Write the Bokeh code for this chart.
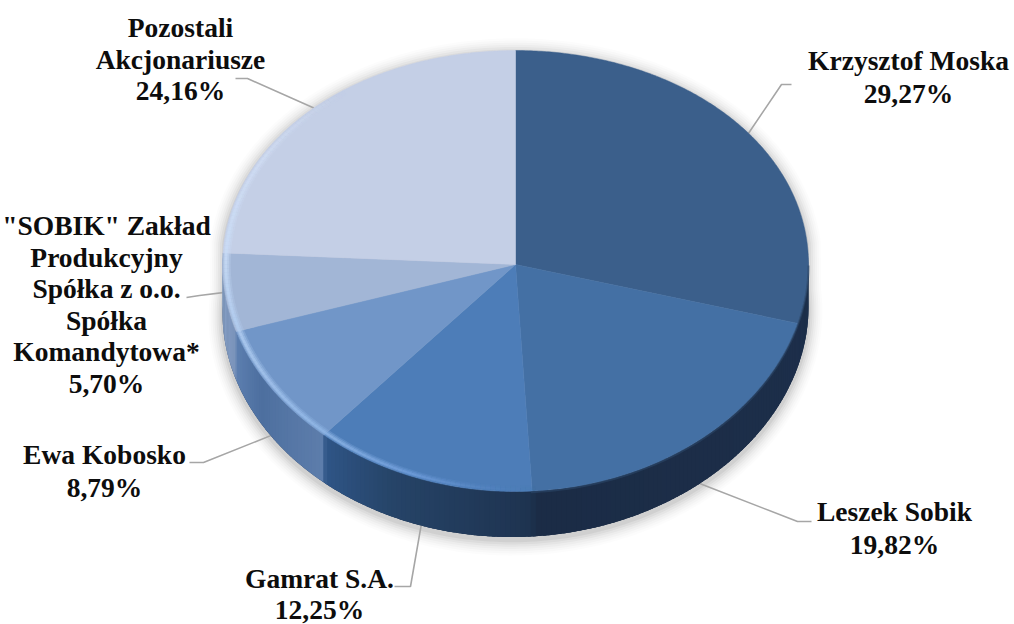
import numpy as np
from bokeh.plotting import figure
from bokeh.models import Range1d
from bokeh.embed import file_html
from bokeh.resources import INLINE
from bokeh.core.properties import value

# data
names = ["Krzysztof Moska", "Leszek Sobik", "Gamrat S.A.", "Ewa Kobosko",
         '"SOBIK" Zakład Produkcyjny Spółka z o.o. Spółka Komandytowa*', "Pozostali Akcjonariusze"]
shares = [29.27, 19.82, 12.25, 8.79, 5.70, 24.16]
pct_labels = ["29,27%", "19,82%", "12,25%", "8,79%", "5,70%", "24,16%"]
label_lines = [["Krzysztof Moska"], ["Leszek Sobik"], ["Gamrat S.A."], ["Ewa Kobosko"],
               ['"SOBIK" Zakład', "Produkcyjny", "Spółka z o.o.", "Spółka", "Komandytowa*"],
               ["Pozostali", "Akcjonariusze"]]

# styles and layout (page pixel coordinates)
face_colors = ["#3b5f8b", "#4470a4", "#4d7db8", "#7196c8", "#a2b6d6", "#c4cfe6"]
label_centers = [908, 894, 319, 104, 106, 180]
label_first_baseline = [69, 520, 587, 463, 234, 36]
label_step = [33, 33, 31, 33, 31.6, 31.5]
text_shift = -9
leader_elbows = [[(781, 84), (791, 84)], [(797, 521), (811, 521)], [(410, 586), (394, 586)],
                 [(203, 462), (189, 462)], [(199, 295), (186, 297)], [(247, 78), (235, 78)]]
leader_on_side = [False, True, True, True, False, False]
side_stops = [(88, "#1d2f4b"), (176, "#1b2c46"), (177, "#1e3350"), (205, "#264468"), (220.4, "#2f5587"),
              (221, "#5d7dab"), (240, "#4d6f9f"), (252, "#5d7fb0"), (253, "#7a94bb"), (272, "#8ea6ca")]
rim_stops = [(176, "#4f7fbb", 0.0), (200, "#6f9ddb", 0.9), (221, "#8fb6e6", 1.0), (252, "#b0ccf0", 1.0),
             (273, "#c9dcf6", 1.0), (300, "#d2dff5", 0.7), (325, "#d0dbf0", 0.0)]

CX, CY, RX, RY, APEX_Y = 515.0, 270.5, 293.0, 220.5, 264.0


def rim(t, s=1.0, extra=0.0):
    r = np.radians(t)
    x = CX + RX * s * np.sin(r)
    y = APEX_Y + (CY - APEX_Y) * np.cos(r) ** 2 - RY * s * np.cos(r) + extra
    return x, y


def depth(t):
    return 45.5 - 3.0 * np.sin(np.radians(t))


def hexrgb(c):
    return np.array([int(c[i:i + 2], 16) for i in (1, 3, 5)], float)


def mix(stops, t):
    ts = [a[0] for a in stops]
    cols = np.array([hexrgb(a[1]) for a in stops])
    v = [np.interp(t, ts, cols[:, i]) for i in range(3)]
    return "#%02x%02x%02x" % tuple(int(round(c)) for c in v)


p = figure(width=1014, height=624, output_backend="svg", toolbar_location=None,
           x_range=Range1d(0, 1014), y_range=Range1d(624, 0), min_border=0,
           outline_line_color=None, background_fill_color="white", border_fill_color="white")
p.axis.visible = False
p.grid.visible = False

# soft shadow under the disc
th = np.linspace(0, 360, 361)
for grow, a in [(14, 0.012), (12, 0.016), (10, 0.02), (8, 0.025), (6, 0.03), (4, 0.04), (2, 0.05)]:
    x, y = rim(th)
    dy = depth(th) * (np.cos(np.radians(th)) < 0.1) + 3
    x = CX + (x - CX) * (1 + grow / RX)
    y = (y + dy - (CY + 23)) * (1 + grow / RY) + CY + 23
    p.patch(x, y, fill_color="#000000", fill_alpha=a, line_color=None)

# leader lines go under the disc
cuts = np.cumsum([0] + shares) / sum(shares) * 360.0
mids = (cuts[:-1] + cuts[1:]) / 2
for m, el, on_side in zip(mids, leader_elbows, leader_on_side):
    ax, ay = rim(m, 1.0, depth(m) if on_side else 0.0)
    p.line([ax] + [e[0] for e in el], [ay] + [e[1] for e in el], line_color="#a6a6a6", line_width=1.6)

# side wall: solid base, then overlapping colour bands
tbase = np.arange(88, 273, 1.0)
xb0, yb0 = rim(tbase)
p.patch(np.r_[xb0, xb0[::-1]], np.r_[yb0, (yb0 + depth(tbase))[::-1]], fill_color="#1d2f4b", line_color=None)
tt = np.arange(88, 272, 1.0)
xs, ys, cs = [], [], []
for t in tt:
    x0, y0 = rim(t)
    x1, y1 = rim(t + 1.6)
    d1 = depth(t + 1.6)
    xs.append([x0, x1, x1, x0])
    ys.append([y0, y1, y1 + d1, y0 + depth(t)])
    cs.append(mix(side_stops, t + 0.5))
p.patches(xs, ys, fill_color=cs, line_color=None)

# top face wedges
for a, b, c in zip(cuts[:-1], cuts[1:], face_colors):
    t = np.linspace(a, b, max(int(b - a) * 2, 4))
    x, y = rim(t)
    p.patch(np.r_[CX, x], np.r_[APEX_Y, y], fill_color=c, line_color=c, line_width=0.5)

# lit bevel along the front-left rim
ts = [s[0] for s in rim_stops]
tb = np.arange(176, 325, 1.0)
for s0, s1, k in [(0.972, 0.999, 0.28), (0.978, 0.996, 0.45), (0.984, 0.993, 0.7)]:
    xs, ys, cs, al = [], [], [], []
    for t in tb:
        xa, ya = rim(t, s1)
        xb, yb = rim(t + 1, s1)
        xc, yc = rim(t + 1, s0)
        xd, yd = rim(t, s0)
        xs.append([xa, xb, xc, xd])
        ys.append([ya, yb, yc, yd])
        cs.append(mix([(r[0], r[1]) for r in rim_stops], t + 0.5))
        al.append(float(np.interp(t + 0.5, ts, [r[2] for r in rim_stops])) * k)
    p.patches(xs, ys, fill_color=cs, fill_alpha=al, line_color=None)

# soft edge between face and wall on the right
tb = np.arange(90, 178, 1.0)
xr, yr = rim(tb)
p.line(xr, yr + 1, line_color="#2c4668", line_width=2, line_alpha=0.6)

# labels
tx, ty, tt_ = [], [], []
for lines, pct, cxl, y0, st in zip(label_lines, pct_labels, label_centers, label_first_baseline, label_step):
    for i, s in enumerate(lines + [pct]):
        tx.append(cxl)
        ty.append(y0 + i * st + text_shift)
        tt_.append(s)
p.text(tx, ty, text=tt_, text_font=value("Liberation Serif"), text_font_style="bold",
       text_font_size="27.5px", text_color="#0d0d0d", text_align="center", text_baseline="alphabetic")

open("out.html", "w").write(file_html(p, INLINE))
